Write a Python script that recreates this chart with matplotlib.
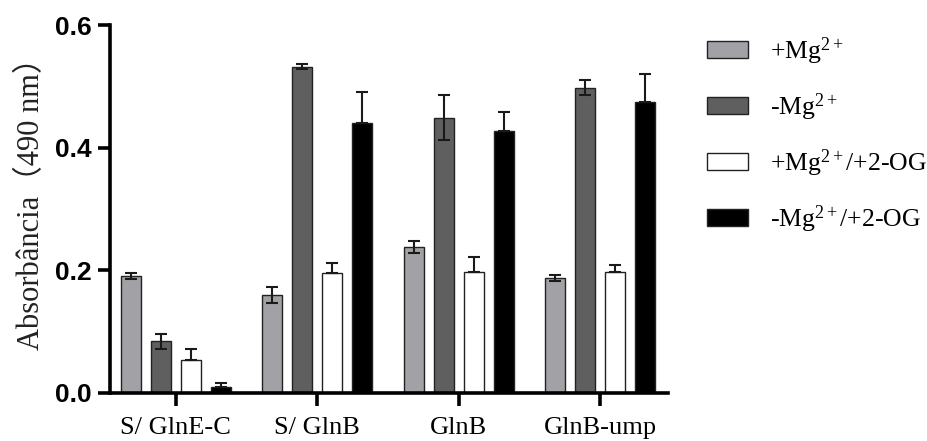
import matplotlib
matplotlib.use("Agg")
import matplotlib.pyplot as plt
import numpy as np
from matplotlib.patches import Patch
from matplotlib import font_manager

categories = ["S/ GlnE-C", "S/ GlnB", "GlnB", "GlnB-ump"]
series = ["+Mg$\\mathregular{^{2+}}$", "-Mg$\\mathregular{^{2+}}$",
          "+Mg$\\mathregular{^{2+}}$/+2-OG", "-Mg$\\mathregular{^{2+}}$/+2-OG"]

mg_plus = [0.191, 0.159, 0.238, 0.188]
mg_plus_err = [0.005, 0.013, 0.010, 0.005]
mg_minus = [0.084, 0.532, 0.449, 0.498]
mg_minus_err = [0.012, 0.004, 0.037, 0.012]
mg_plus_og = [0.053, 0.195, 0.197, 0.198]
mg_plus_og_err = [0.019, 0.017, 0.024, 0.011]
mg_minus_og = [0.010, 0.440, 0.427, 0.474]
mg_minus_og_err = [0.006, 0.051, 0.032, 0.047]

values = [mg_plus, mg_minus, mg_plus_og, mg_minus_og]
errors = [mg_plus_err, mg_minus_err, mg_plus_og_err, mg_minus_og_err]
colors = ["#a2a2a6", "#5f5f5f", "#ffffff", "#000000"]
# grey bars show symmetric error bars, white/black only the upper half
both_sides = [True, True, False, False]

plt.rcParams["font.family"] = ["Liberation Serif", "DejaVu Serif"]
plt.rcParams["mathtext.fontset"] = "custom"
plt.rcParams["mathtext.rm"] = "Liberation Serif"
plt.rcParams["mathtext.it"] = "Liberation Serif:italic"
plt.rcParams["mathtext.bf"] = "Liberation Serif:bold"

# regular-width bold sans for the numeric tick labels
bold_sans = None
for f in font_manager.fontManager.ttflist:
    if f.name == "Liberation Sans" and f.weight in (700, "bold") and f.style == "normal":
        bold_sans = f.fname
        break
if bold_sans:
    tick_font = font_manager.FontProperties(fname=bold_sans, size=19)
else:
    tick_font = font_manager.FontProperties(family="DejaVu Sans", weight="bold", size=16)

fig = plt.figure(figsize=(9.28, 4.41), dpi=100)
ax = fig.add_axes([0.1185, 0.109, 0.601, 0.834])

x = np.arange(len(categories))
width = 0.141
step = 0.212
offsets = (np.arange(4) - 1.5) * step

for i in range(4):
    xi = x + offsets[i]
    ax.bar(xi, values[i], width=width, color=colors[i], edgecolor="#222222",
           linewidth=1.0, zorder=2)
    err = np.array(errors[i])
    if both_sides[i]:
        yerr = [err, err]
    else:
        yerr = [np.zeros_like(err), err]
    ax.errorbar(xi, values[i], yerr=yerr, fmt="none", ecolor="#1a1a1a",
                elinewidth=1.5, capsize=4, capthick=1.5, zorder=3)

ax.set_xlim(-0.466, 3.477)
ax.set_ylim(0, 0.6)
ax.set_yticks([0.0, 0.2, 0.4, 0.6])
ax.set_yticklabels(["0.0", "0.2", "0.4", "0.6"], fontproperties=tick_font)
ax.set_xticks(x)
ax.set_xticklabels(categories, fontsize=19)

for side in ["top", "right"]:
    ax.spines[side].set_visible(False)
for side in ["left", "bottom"]:
    ax.spines[side].set_linewidth(2.6)
    ax.spines[side].set_capstyle("projecting")
ax.tick_params(axis="y", length=9, width=2.6, pad=4)
ax.tick_params(axis="x", length=9.5, width=2.6, pad=7.5)

ax.set_ylabel("Absorbância（490 nm）", fontsize=22, color="#222222")
ax.yaxis.label.set_fontfamily(["Liberation Serif", "Noto Sans CJK SC"])
ax.yaxis.set_label_coords(-0.115, 0.535)

handles = [Patch(facecolor=c, edgecolor="#222222", linewidth=1.0) for c in colors]
fig.legend(handles, series, loc="upper left", bbox_to_anchor=(0.762, 0.92),
           frameon=False, fontsize=18.5, handlelength=1.6, handleheight=0.6,
           labelspacing=0.95, handletextpad=0.85, borderpad=0, borderaxespad=0)

fig.savefig("out.png", dpi=100)
